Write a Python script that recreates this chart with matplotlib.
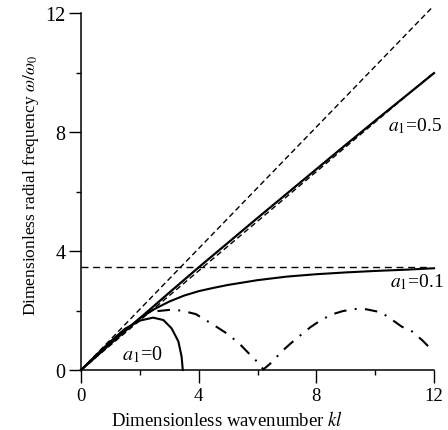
import matplotlib
matplotlib.use("Agg")
import matplotlib.pyplot as plt

plt.rcParams['font.family'] = ['Liberation Serif', 'DejaVu Serif']
plt.rcParams['mathtext.fontset'] = 'stix'
plt.rcParams['lines.scale_dashes'] = False

# ---- data ----
x_a0 = [0, 0.5, 1.0, 1.5, 2.0, 2.45, 2.8, 3.08, 3.31, 3.42, 3.46]
y_a0 = [0, 0.49, 0.96, 1.39, 1.66, 1.76, 1.68, 1.40, 0.96, 0.45, 0.0]

x_a01 = [0, 1, 2, 2.5, 3, 3.5, 4, 4.5, 5, 6, 7, 8, 9, 10, 11, 12]
y_a01 = [0, 0.9, 1.74, 2.05, 2.3, 2.5, 2.65, 2.76, 2.86, 3.02, 3.14, 3.22, 3.28, 3.33, 3.37, 3.42]

x_a05 = [0, 1, 2, 3, 4, 5, 6, 7, 8, 9, 10, 11, 12]
y_a05 = [0, 0.88, 1.74, 2.6, 3.45, 4.28, 5.11, 5.93, 6.75, 7.57, 8.38, 9.18, 9.98]

x_dd = [2.6, 3.0, 3.4, 3.9, 4.5, 5.0, 5.4, 5.8, 6.0, 6.2, 6.5, 6.8, 7.1, 7.5, 7.8,
        8.1, 8.5, 8.9, 9.3, 9.5, 9.7, 10.2, 10.5, 10.9, 11.25, 11.6, 11.9]
y_dd = [1.98, 2.02, 2.0, 1.88, 1.52, 1.2, 0.87, 0.46, 0.27, 0.02, 0.27, 0.6, 0.87, 1.2, 1.44,
        1.64, 1.86, 1.98, 2.05, 2.05, 2.04, 1.94, 1.74, 1.46, 1.3, 1.0, 0.7]

x_asym_hi = [0, 11.9]
y_asym_hi = [0, 12.15]
x_asym_lo = [0, 12]
y_asym_lo = [0, 10.0]
x_asym_h = [0, 11.8]
y_asym_h = [3.47, 3.47]

ticks = [0, 4, 8, 12]
minor_ticks = [2, 6, 10]

# ---- figure ----
fig = plt.figure(figsize=(4.48, 4.31), dpi=100)
ax = fig.add_axes([0.1808, 0.1392, 0.788, 0.8283])

ax.plot(x_asym_hi, y_asym_hi, color='black', lw=1.0, dashes=(4.0, 2.4), clip_on=False)
ax.plot(x_asym_lo, y_asym_lo, color='black', lw=1.0, dashes=(4.0, 2.4), clip_on=False)
ax.plot(x_asym_h, y_asym_h, color='black', lw=1.0, dashes=(5.0, 3.4), clip_on=False)

ax.plot(x_a05, y_a05, color='black', lw=1.6, clip_on=False)
ax.plot(x_a01, y_a01, color='black', lw=1.5, clip_on=False)
ax.plot(x_a0, y_a0, color='black', lw=1.5, clip_on=False)
ax.plot(x_dd, y_dd, color='black', lw=1.5, dashes=(9.0, 6.0, 1.4, 6.0), clip_on=False)

ax.set_xlim(0, 12)
ax.set_ylim(0, 12)
ax.set_xticks(ticks)
ax.set_yticks(ticks)
ax.set_xticks(minor_ticks, minor=True)
ax.set_yticks(minor_ticks, minor=True)
ax.tick_params(which='major', direction='out', length=8.5, width=1.0, pad=2.5)
ax.tick_params(axis='y', which='major', labelsize=14.5)
ax.tick_params(axis='x', which='major', labelsize=13.5, length=9, pad=3)
ax.tick_params(which='minor', direction='out', length=3.5, width=1.0)
for s in ['top', 'right']:
    ax.spines[s].set_visible(False)
for s in ['left', 'bottom']:
    ax.spines[s].set_linewidth(1.1)

ax.set_xlabel('Dimensionless wavenumber $kl$', fontsize=13.5)
ax.xaxis.set_label_coords(0.414, -0.112)
ax.set_ylabel(r'Dimensionless radial frequency $\omega/\omega_0$', fontsize=12.5)
ax.yaxis.set_label_coords(-0.113, 0.52)

ax.text(2.1, 0.55, r'$a_1$=0', fontsize=14.5, ha='center', va='center')
ax.text(10.45, 8.24, r'$a_1$=0.5', fontsize=14, ha='left', va='center', clip_on=False)
ax.text(10.5, 3.0, r'$a_1$=0.1', fontsize=14, ha='left', va='center', clip_on=False)

fig.savefig('out.png', dpi=100)
